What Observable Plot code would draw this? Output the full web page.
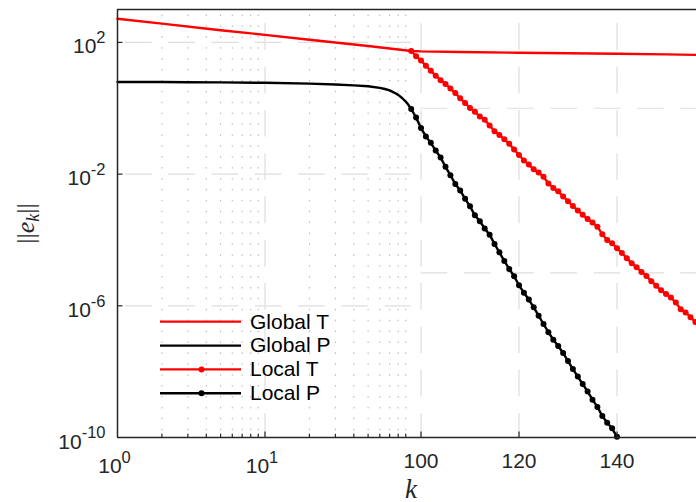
<!DOCTYPE html>
<html><head><meta charset="utf-8">
<script src="https://cdn.jsdelivr.net/npm/d3@7"></script>
<script src="https://cdn.jsdelivr.net/npm/@observablehq/plot@0.6"></script>
<style>
html,body{margin:0;padding:0;background:#fff;}
#chart{position:relative;width:696px;height:502px;}
</style></head><body><div id="chart"></div>
<script>
// ---------- data ----------
const seriesNames = ["Global T", "Global P", "Local T", "Local P"];

const globalTK   = [1, 2, 5, 10, 20, 50, 98, 100, 108, 120, 130, 140, 150, 156];
const globalTVal = [525, 372, 234, 170, 120, 78, 55, 53.5, 51, 48.5, 47, 45.3, 43.3, 42];

const globalPK   = [1, 2, 3, 5, 10, 20, 30, 40, 50, 60, 65, 70, 75, 80, 85, 90, 94, 98];
const globalPVal = [6.3, 6.25, 6.2, 6.1, 5.95, 5.6, 5.25, 4.95, 4.65, 4.15, 3.85, 3.5, 3.0, 2.55, 2.05, 1.6, 1.25, 0.95];

const localTK = d3.range(98, 157);
const localTVal = [55, 38, 28, 19.5, 13.8, 9.8, 7.1, 5.5, 4.0, 2.9,
  2.0, 1.45, 1.02, 0.79, 0.56, 0.45, 0.30, 0.20, 0.155, 0.115,
  0.083, 0.056, 0.038, 0.026, 0.0195, 0.014, 0.0112, 0.0083, 0.0052, 0.0038,
  0.0030, 0.0021, 0.0015, 1.07e-3, 7.9e-4, 5.8e-4, 4.3e-4, 3.4e-4, 2.5e-4, 1.5e-4,
  1.0e-4, 7.9e-5, 5.6e-5, 4.0e-5, 2.8e-5, 1.95e-5, 1.48e-5, 1.07e-5, 8.1e-6, 5.6e-6,
  4.1e-6, 2.95e-6, 2.3e-6, 1.78e-6, 1.26e-6, 7.9e-7, 6.3e-7, 4.5e-7, 3.2e-7];

const localPK = d3.range(98, 141);
const localPVal = [0.95, 0.52, 0.25, 0.14, 0.089, 0.052, 0.032, 0.0166, 0.0093, 0.0050,
  0.0032, 1.78e-3, 1.05e-3, 5.6e-4, 3.7e-4, 2.24e-4, 1.45e-4, 7.6e-5, 4.2e-5, 2.3e-5,
  1.32e-5, 7.9e-6, 4.2e-6, 2.5e-6, 1.55e-6, 9.0e-7, 5.0e-7, 2.8e-7, 1.58e-7, 9.3e-8,
  6.0e-8, 3.7e-8, 2.1e-8, 1.2e-8, 7.1e-9, 4.2e-9, 2.5e-9, 1.41e-9, 8.5e-10, 4.5e-10,
  2.8e-10, 1.9e-10, 1.05e-10];

// ticks / grid
const yTickVals   = [1e2, 1e-2, 1e-6, 1e-10];
const yTickLabels = ["10^2", "10^-2", "10^-6", "10^-10"];
const xLogTicks   = [1, 10];
const xLogLabels  = ["10^0", "10^1"];
const xLinTicks   = [100, 120, 140];
const xLinLabels  = ["100", "120", "140"];
const xMinorK     = [2, 3, 4, 5, 6, 7, 8, 9, 20, 30, 40, 50, 60, 70, 80, 90];
const leftGridY   = [1e2, 1e-2, 1e-6];
const rightGridY  = [1, 1e-5];

// ---------- composite x axis: log part up to KB, linear after ----------
const C = 147.5 / 4.9, KB = 98;
const u = k => k <= KB ? C * Math.log10(k) : C * Math.log10(KB) + (k - KB);
const X_END = (696 - 117) / 4.9;

const zip = (ks, vs) => ks.map((k, i) => ({k, v: vs[i]}));
const gT = zip(globalTK, globalTVal);
const gP = zip(globalPK, globalPVal);
const lT = zip(localTK, localTVal);
const lP = zip(localPK, localPVal);

const RED = "#ff0000", BLK = "#000000", AX = "#262626";
const GRID = "#dedede", DOT = "#b3b3b3";
const DASH = "26.7,16.6";
const SANS = "'Liberation Sans', Arial, Helvetica, sans-serif";
const SERIF = "'Liberation Serif', 'Times New Roman', serif";

const chart = Plot.plot({
  width: 696, height: 502,
  marginLeft: 117, marginRight: 0, marginTop: 9, marginBottom: 65,
  style: {fontFamily: SANS, fontSize: "21px", color: AX, background: "#fff", overflow: "visible"},
  x: {type: "linear", domain: [0, X_END], axis: null},
  y: {type: "log", domain: [1e-10, 1e3], axis: null},
  marks: [
    // grid
    Plot.ruleX(xMinorK, {x: u, stroke: DOT, strokeWidth: 1, strokeDasharray: "1.5,9.4", strokeDashoffset: 5.4}),
    Plot.ruleY(leftGridY, {y: d => d, x1: u(1), x2: u(KB), stroke: GRID, strokeWidth: 1.2, strokeDasharray: DASH, strokeDashoffset: 35.4}),
    Plot.ruleX([10], {x: u, stroke: GRID, strokeWidth: 1.2, strokeDasharray: DASH, strokeDashoffset: 29}),
    Plot.ruleX(xLinTicks, {x: u, stroke: GRID, strokeWidth: 1.2, strokeDasharray: DASH, strokeDashoffset: 29}),
    Plot.ruleY(rightGridY, {y: d => d, x1: u(100), x2: X_END, stroke: GRID, strokeWidth: 1.2, strokeDasharray: DASH}),
    // data
    Plot.line(gP, {x: d => u(d.k), y: "v", stroke: BLK, strokeWidth: 2.4}),
    Plot.line(lP, {x: d => u(d.k), y: "v", stroke: BLK, strokeWidth: 2.4}),
    Plot.dot(lP, {x: d => u(d.k), y: "v", r: 3, fill: BLK, stroke: "none"}),
    Plot.line(gT, {x: d => u(d.k), y: "v", stroke: RED, strokeWidth: 2.4}),
    Plot.line(lT, {x: d => u(d.k), y: "v", stroke: RED, strokeWidth: 2.4}),
    Plot.dot(lT, {x: d => u(d.k), y: "v", r: 3, fill: RED, stroke: "none"}),
    // frame
    Plot.ruleY([1e3, 1e-10], {stroke: AX, strokeWidth: 1.5}),
    Plot.ruleX([0], {stroke: AX, strokeWidth: 1.5}),
    // ticks (inward)
    Plot.axisX({ticks: xMinorK.map(u), tickSize: -3.3, fill: "none", stroke: AX, strokeWidth: 1.2, anchor: "bottom", label: null}),
    Plot.axisX({ticks: [10, ...xLinTicks].map(u), tickSize: -5.5, fill: "none", stroke: AX, strokeWidth: 1.2, anchor: "bottom", label: null}),
    Plot.axisY({ticks: leftGridY, tickSize: -5.5, fill: "none", stroke: AX, strokeWidth: 1.2, anchor: "left", label: null}),
    // tick labels
    Plot.text(yTickVals, {y: d => d, text: (d, i) => yTickLabels[i], frameAnchor: "left", textAnchor: "end", lineAnchor: "bottom", dx: -12, dy: 11, fill: AX, fontSize: 21}),
    Plot.text(xLogTicks, {x: u, text: (d, i) => xLogLabels[i], frameAnchor: "bottom", textAnchor: "middle", lineAnchor: "bottom", dx: -3, dy: 35.7, fill: AX, fontSize: 21}),
    Plot.text(xLinTicks, {x: u, text: (d, i) => xLinLabels[i], frameAnchor: "bottom", textAnchor: "middle", lineAnchor: "bottom", dy: 30.3, fill: AX, fontSize: 21}),
    // axis titles
    Plot.text(["k"], {text: d => d, frameAnchor: "bottom", dx: 4, dy: 60, lineAnchor: "bottom", fontFamily: SERIF, fontStyle: "italic", fontSize: 27, fill: AX}),
    Plot.text(["||e_k||"], {text: d => d, frameAnchor: "left", dx: -84, rotate: -90, textAnchor: "middle", lineAnchor: "bottom", fontFamily: SERIF, fontSize: 26, fill: AX})
  ]
});

// superscripts / subscript as real tspans
d3.select(chart).selectAll("text").each(function () {
  const t = this.textContent;
  const sel = d3.select(this);
  if (t === "||e_k||") {
    sel.text(null);
    sel.append("tspan").text("||");
    sel.append("tspan").attr("font-style", "italic").text("e");
    sel.append("tspan").attr("font-style", "italic").attr("font-size", 18).attr("dy", 5).text("k");
    sel.append("tspan").attr("dy", -5).text("||");
    return;
  }
  const m = t.match(/^(.*)\^(.+)$/);
  if (!m) return;
  sel.text(null);
  sel.append("tspan").text(m[1]);
  sel.append("tspan").attr("dy", -10.3).attr("font-size", 16.5).text(m[2]);
});

// legend (no box), drawn into the same svg
const legendStyle = [
  {color: RED, marker: false},
  {color: BLK, marker: false},
  {color: RED, marker: true},
  {color: BLK, marker: true}
];
const lg = d3.select(chart).append("g")
  .attr("font-family", SANS).attr("font-size", 21).attr("text-anchor", "start");
seriesNames.forEach((name, i) => {
  const y = 321.7 + i * 23.85;
  const s = legendStyle[i];
  lg.append("line").attr("x1", 160).attr("x2", 241).attr("y1", y).attr("y2", y)
    .attr("stroke", s.color).attr("stroke-width", 2.3);
  if (s.marker) lg.append("circle").attr("cx", 201.5).attr("cy", y).attr("r", 3).attr("fill", s.color);
  lg.append("text").attr("x", 250).attr("y", y + 6.8).attr("fill", "#000")
    .attr("text-anchor", "start").text(name);
});

document.getElementById("chart").appendChild(chart);
</script>
</body></html>
